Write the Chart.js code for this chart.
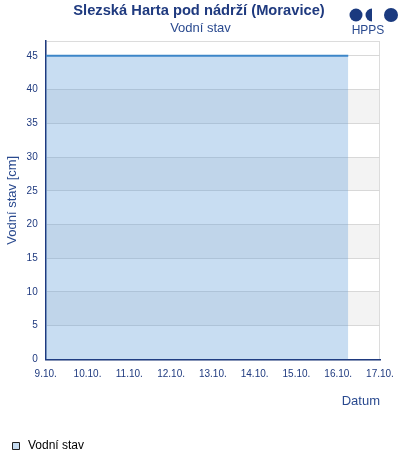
<!DOCTYPE html>
<html>
<head>
<meta charset="utf-8">
<script src="https://cdn.jsdelivr.net/npm/chart.js@4"></script>
<style>
  html, body { margin: 0; padding: 0; background: #fff; }
  #wrap { width: 400px; height: 460px; position: relative; }
</style>
</head>
<body>
<div id="wrap"><canvas id="levelChart"></canvas></div>
<script>
const stationName = "Slezská Harta pod nádrží (Moravice)";
const seriesName = "Vodní stav";
const dayLabels = ["9.10.", "10.10.", "11.10.", "12.10.", "13.10.", "14.10.", "15.10.", "16.10.", "17.10."];
// days since 9.10. 00:00
const times = [0, 1, 2, 3, 4, 5, 6, 7, 7.24];
const levels = [45, 45, 45, 45, 45, 45, 45, 45, 45];

const navy = "#1f3a7f";
const textBlue = "#2a4a8f";
const fontFamily = "'Liberation Sans', Arial, sans-serif";

// alternating grey bands + light frame, through the y scale
const bandsPlugin = {
  id: "bands",
  beforeDraw(chart) {
    const { ctx, chartArea: a, scales: { y } } = chart;
    ctx.save();
    ctx.fillStyle = "#f3f3f3";
    for (let v = 5; v < 45; v += 10) {
      const top = y.getPixelForValue(v + 5);
      const bot = y.getPixelForValue(v);
      ctx.fillRect(a.left, top, a.right - a.left, bot - top);
    }
    ctx.strokeStyle = "#dcdcdc";
    ctx.lineWidth = 1;
    ctx.strokeRect(a.left + 0.5, a.top + 0.5, a.right - a.left - 1, a.bottom - a.top);
    ctx.restore();
  }
};

// title, subtitle and the HPPS logo
const headerPlugin = {
  id: "header",
  afterDraw(chart) {
    const ctx = chart.ctx;
    ctx.save();
    ctx.textAlign = "center";
    ctx.textBaseline = "middle";
    ctx.fillStyle = navy;
    ctx.font = "bold 14.7px " + fontFamily;
    ctx.fillText(stationName, 199, 11);
    ctx.fillStyle = textBlue;
    ctx.font = "13px " + fontFamily;
    ctx.fillText(seriesName, 200.5, 28.5);

    ctx.fillStyle = "#1b3a7f";
    ctx.beginPath();
    ctx.arc(356, 15, 6.5, 0, Math.PI * 2);
    ctx.fill();
    ctx.beginPath();
    ctx.arc(372, 15, 6.5, Math.PI / 2, Math.PI * 1.5);
    ctx.closePath();
    ctx.fill();
    ctx.beginPath();
    ctx.arc(391, 15, 7, 0, Math.PI * 2);
    ctx.fill();
    ctx.font = "12px " + fontFamily;
    ctx.fillStyle = textBlue;
    ctx.fillText("HPPS", 368, 31);
    ctx.restore();
  }
};

Chart.defaults.font.family = fontFamily;
Chart.defaults.color = navy;

new Chart(document.getElementById("levelChart"), {
  type: "line",
  data: {
    datasets: [{
      label: seriesName,
      data: times.map((t, i) => ({ x: t, y: levels[i] })),
      borderColor: "#3d86c8",
      borderWidth: 2,
      backgroundColor: "rgba(87,153,216,0.33)",
      fill: "origin",
      pointRadius: 0,
      tension: 0
    }]
  },
  options: {
    responsive: true,
    maintainAspectRatio: false,
    animation: false,
    layout: { padding: { left: 3, right: 20, top: 41, bottom: -2 } },
    plugins: {
      title: { display: false },
      subtitle: { display: false },
      legend: {
        position: "bottom",
        align: "start",
        labels: {
          usePointStyle: true,
          boxWidth: 12,
          boxHeight: 7,
          color: textBlue,
          font: { size: 12 },
          padding: 7,
          generateLabels: chart => [{
            text: seriesName,
            fillStyle: "#c7ddf2",
            strokeStyle: "#222",
            lineWidth: 1,
            pointStyle: "rect",
            datasetIndex: 0
          }]
        }
      },
      tooltip: { enabled: false }
    },
    scales: {
      x: {
        type: "linear",
        min: 0,
        max: 8,
        ticks: {
          stepSize: 1,
          color: navy,
          font: { size: 10 },
          maxRotation: 0,
          padding: 0.5,
          callback: (v) => dayLabels[v]
        },
        grid: { display: false },
        border: { color: navy, width: 1.5 },
        title: {
          display: true,
          text: "Datum",
          align: "end",
          color: textBlue,
          font: { size: 13 },
          padding: { top: 13, bottom: 24 }
        }
      },
      y: {
        min: 0,
        max: 47.2,
        ticks: {
          stepSize: 5,
          includeBounds: false,
          color: navy,
          font: { size: 10 },
          padding: 8
        },
        grid: { color: "#d8d8d8", drawTicks: false },
        border: { color: navy, width: 1.5 },
        title: {
          display: true,
          text: "Vodní stav [cm]",
          color: textBlue,
          font: { size: 13 },
          padding: { top: 1.5, bottom: -1.5 }
        }
      }
    }
  },
  plugins: [bandsPlugin, headerPlugin]
});
</script>
</body>
</html>
